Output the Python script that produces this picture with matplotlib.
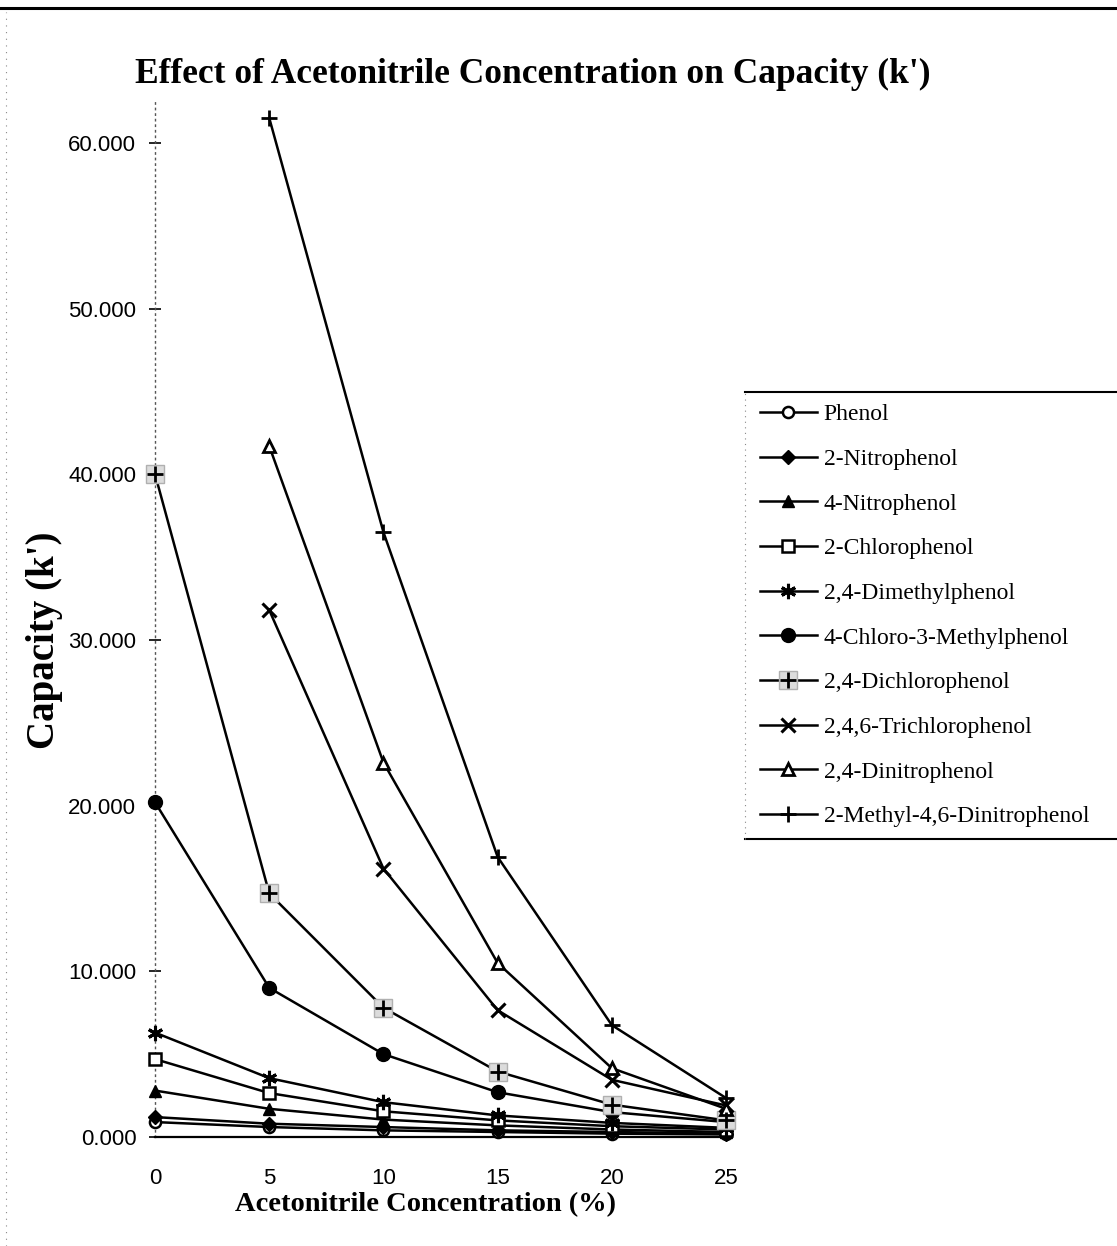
import numpy as np
import matplotlib.pyplot as plt
from matplotlib.lines import Line2D
from matplotlib.legend_handler import HandlerTuple

# acetonitrile concentration (%) and capacity factor k' for each phenol
conc = [0, 5, 10, 15, 20, 25]

phenol = [0.9, 0.6, 0.4, 0.3, 0.2, 0.15]
nitro2 = [1.2, 0.8, 0.6, 0.4, 0.3, 0.2]
nitro4 = [2.8, 1.7, 1.05, 0.7, 0.45, 0.3]
chloro2 = [4.7, 2.65, 1.55, 1.0, 0.65, 0.45]
dimethyl24 = [6.3, 3.55, 2.1, 1.3, 0.85, 0.55]
chloro_methyl = [20.2, 9.0, 5.0, 2.7, 1.5, 0.9]
dichloro24 = [40.0, 14.7, 7.8, 3.95, 1.95, 1.0]
trichloro246 = [np.nan, 31.8, 16.2, 7.65, 3.45, 1.9]
dinitro24 = [np.nan, 41.7, 22.6, 10.5, 4.15, 1.7]
methyl_dinitro = [np.nan, 61.5, 36.5, 16.9, 6.75, 2.35]

labels = ["Phenol", "2-Nitrophenol", "4-Nitrophenol", "2-Chlorophenol",
          "2,4-Dimethylphenol", "4-Chloro-3-Methylphenol", "2,4-Dichlorophenol",
          "2,4,6-Trichlorophenol", "2,4-Dinitrophenol", "2-Methyl-4,6-Dinitrophenol"]
series = [phenol, nitro2, nitro4, chloro2, dimethyl24, chloro_methyl,
          dichloro24, trichloro246, dinitro24, methyl_dinitro]

styles = [
    dict(marker="o", ms=8, mfc="white", mec="black", mew=1.8),
    dict(marker="D", ms=7, mfc="black", mec="black"),
    dict(marker="^", ms=9, mfc="black", mec="black"),
    dict(marker="s", ms=8, mfc="white", mec="black", mew=1.8),
    dict(marker=(6, 2, 0), ms=11, mec="black", mew=2.2),
    dict(marker="o", ms=10, mfc="black", mec="black"),
    None,
    dict(marker="x", ms=10, mec="black", mew=2.2),
    dict(marker="^", ms=9, mfc="white", mec="black", mew=2.0),
    dict(marker="+", ms=12, mec="black", mew=2.0),
]

fig = plt.figure(figsize=(11.17, 12.46), dpi=100)
ax = fig.add_axes([0.1388, 0.0875, 0.5112, 0.8311])

handles = []
for vals, st, lab in zip(series, styles, labels):
    if st is None:
        # stippled grey square with a plus on top
        ln, = ax.plot(conc, vals, color="black", lw=1.8, marker="s", ms=13,
                      mfc="#dcdcdc", mec="#b0b0b0", mew=1.0, clip_on=False, zorder=3)
        pl, = ax.plot(conc, vals, ls="none", marker="+", ms=12, mec="black",
                      mew=2.0, clip_on=False, zorder=4)
        handles.append((ln, pl))
    else:
        ln, = ax.plot(conc, vals, color="black", lw=1.8, clip_on=False, zorder=3, **st)
        handles.append(ln)

ax.set_xlim(0, 25)
ax.set_ylim(0, 62.5)
ax.set_xticks(conc)
ax.set_yticks(np.arange(0, 61, 10))
ax.set_yticklabels([f"{v:.3f}" for v in np.arange(0, 61, 10)])

for lab in ax.get_xticklabels() + ax.get_yticklabels():
    lab.set_family("Liberation Sans")
    lab.set_fontsize(16)
ax.tick_params(axis="x", length=0, pad=22)
ax.tick_params(axis="y", direction="inout", length=9, width=1.2, pad=9)

ax.spines["top"].set_visible(False)
ax.spines["right"].set_visible(False)
ax.spines["bottom"].set_linewidth(1.6)
ax.spines["left"].set_linestyle((0, (1, 3)))
ax.spines["left"].set_color("#555555")
ax.spines["left"].set_linewidth(1.0)

fig.text(0.477, 0.940, "Effect of Acetonitrile Concentration on Capacity (k')",
         ha="center", va="center", family="Liberation Serif", weight="bold", fontsize=25.5)
fig.text(0.381, 0.033, "Acetonitrile Concentration (%)", ha="center", va="center",
         family="Liberation Serif", weight="bold", fontsize=20.5)
fig.text(0.040, 0.486, "Capacity (k')", ha="center", va="center", rotation=90,
         family="Liberation Serif", weight="bold", fontsize=28)

leg = fig.legend(handles, labels, loc="center left", bbox_to_anchor=(0.672, 0.506),
                 frameon=False, prop={"family": "Liberation Serif", "size": 17},
                 handlelength=2.4, handletextpad=0.3, labelspacing=0.98,
                 borderaxespad=0, handler_map={tuple: HandlerTuple(ndivide=1)})

# legend box edges and page rules
fig.add_artist(Line2D([0.667, 1.0], [0.685, 0.685], color="black", lw=1.5))
fig.add_artist(Line2D([0.667, 1.0], [0.327, 0.327], color="black", lw=1.5))
fig.add_artist(Line2D([0.667, 0.667], [0.327, 0.685], color="#888888", lw=0.8, ls=(0, (1, 4))))
fig.add_artist(Line2D([0.0, 1.0], [0.9935, 0.9935], color="black", lw=2.2))
fig.add_artist(Line2D([0.005, 0.005], [0.0, 0.99], color="#888888", lw=0.8, ls=(0, (1, 5))))

fig.savefig("out.png", dpi=100)
